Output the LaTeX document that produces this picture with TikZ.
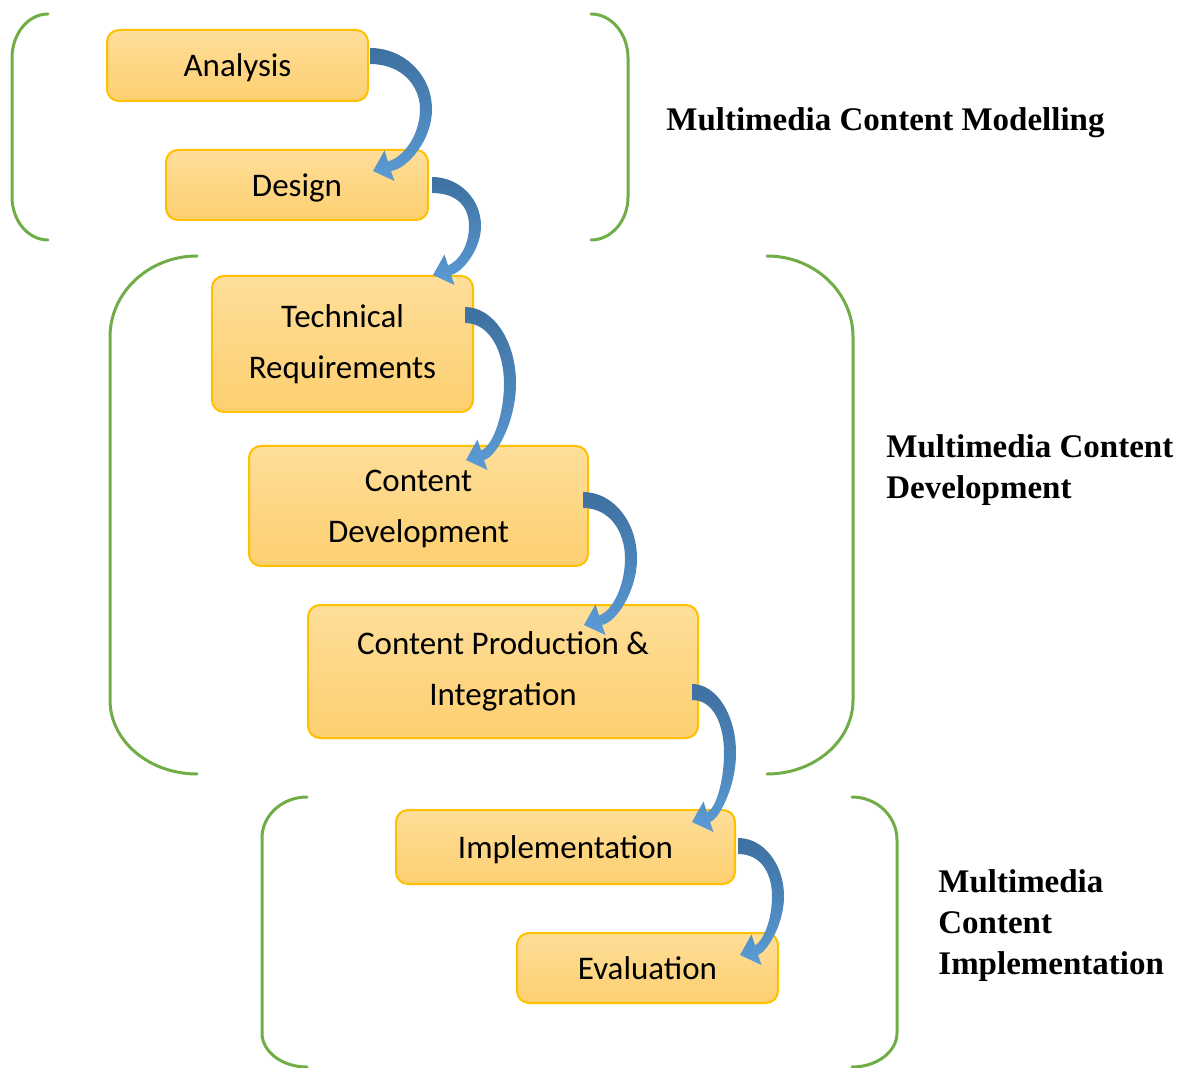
\documentclass[tikz,border=0pt]{standalone}
\usepackage{fontspec}
\usetikzlibrary{calc}
\newfontfamily\carlito{Carlito}
\newfontfamily\libserif{Liberation Serif}
\definecolor{boxtop}{RGB}{254,222,153}
\definecolor{boxbot}{RGB}{253,207,112}
\definecolor{boxborder}{RGB}{255,192,0}
\definecolor{brgreen}{RGB}{112,173,71}
\definecolor{arrdark}{RGB}{62,112,160}
\definecolor{arrlight}{RGB}{91,155,213}
\newcommand\boxfont{\carlito\fontsize{16.5}{25.5}\selectfont}
\newcommand\labfont{\libserif\bfseries\fontsize{16.5}{20.5}\selectfont}
% green bracket: xend, xvert, ytop, yvtop, yvbot, ybot
\newcommand\greenbracket[6]{%
  \draw[bracket] (#1,#3) .. controls ({#1-0.552*(#1-#2)},#3) and (#2,{#4-0.552*(#4-#3)}) .. (#2,#4)
    -- (#2,#5) .. controls (#2,{#5+0.552*(#6-#5)}) and ({#1-0.552*(#1-#2)},#6) .. (#1,#6);}
% curved block arrow: tail coordinate, tip coordinate, width (px)
\newcommand\curvedarrow[3]{%
  \path let \p1=($(#2)-(#1)$) in (#1) \pgfextra{\pgfmathsetmacro\tmpH{-2*(\y1)}\pgfmathsetmacro\tmpT{2*(\x1)}\xdef\aH{\tmpH}\xdef\aT{\tmpT}};
  \begin{scope}[shift={(#1)}]
  \pgfmathsetmacro\aW{#3}
  \shade[arrowshade] (0,0) .. controls ({0.55*\aW},0) and (\aW,{0.22*\aH}) .. (\aW,{0.5*\aH})
     .. controls (\aW,{0.75*\aH}) and ({0.6*\aW},{\aH-2}) .. ({\aT+18},{\aH})
     -- ({\aT+21.5},{\aH+10}) -- (\aT,\aH) -- ({\aT+11.5},{\aH-20.5}) -- ({\aT+15},{\aH-9.5})
     .. controls ({0.55*\aW},{\aH-14}) and ({\aW-12},{0.7*\aH}) .. ({\aW-12},{0.5*\aH})
     .. controls ({\aW-12},{0.3*\aH}) and ({0.5*\aW},16) .. (0,16) -- cycle;
  \end{scope}}
\begin{document}
\begin{tikzpicture}[x=0.5pt,y=-0.5pt,
  stage/.style={draw=boxborder, line width=1pt, rounded corners=6pt,
    top color=boxtop, bottom color=boxbot, inner sep=0pt, outer sep=0pt,
    font=\boxfont, align=center, text=black},
  lowtext/.style={text depth=0pt},
  lab/.style={font=\labfont, inner sep=0pt, anchor=base west, text=black},
  bracket/.style={draw=brgreen, line width=1.5pt, line cap=round},
  arrowshade/.style={top color=arrdark, bottom color=arrlight}]
\useasboundingbox (0,0) rectangle (1187,1068);

% brackets
\greenbracket{48}{12}{14}{58}{197}{240}
\greenbracket{591}{628}{14}{58}{197}{240}
\greenbracket{197}{110}{256}{337}{700}{774}
\greenbracket{767}{853}{256}{337}{700}{774}
\greenbracket{307}{262}{797}{838}{1033}{1067}
\greenbracket{852}{897}{797}{840}{1033}{1067}

% stages
\node[stage, lowtext, minimum width=130.5pt, minimum height=35.5pt] (analysis) at (237.5,65.5) {Analysis};
\node[stage, lowtext, minimum width=131pt, minimum height=35pt] (design) at (297,185) {Design};
\node[stage, minimum width=130.5pt, minimum height=68pt] (tech) at (342.5,344) {Technical\\Requirements};
\node[stage, lowtext, minimum width=169.5pt, minimum height=60pt] (cdev) at (418.5,506) {Content\\Development};
\node[stage, minimum width=195pt, minimum height=66.5pt] (cprod) at (503,671.5) {Content Production \&\\Integration};
\node[stage, lowtext, minimum width=169.5pt, minimum height=37pt] (impl) at (565.5,847) {Implementation};
\node[stage, lowtext, minimum width=130.5pt, minimum height=35pt] (eval) at (647.5,968) {Evaluation};

% arrow end points
\coordinate (t1) at ($(analysis.north east)+(2,18)$);
\coordinate (h1) at ($(design.north east)+(-55,21)$);
\coordinate (t2) at ($(design.north east)+(4,27)$);
\coordinate (h2) at ($(tech.north east)+(-40,-1)$);
\coordinate (t3) at ($(tech.north east)+(-8,31)$);
\coordinate (h3) at ($(cdev.north east)+(-122,14)$);
\coordinate (t4) at ($(cdev.north east)+(-5,46)$);
\coordinate (h4) at ($(cprod.north east)+(-114,20)$);
\coordinate (t5) at ($(cprod.north east)+(-6,79)$);
\coordinate (h5) at ($(impl.north east)+(-43,12)$);
\coordinate (t6) at ($(impl.north east)+(3,28)$);
\coordinate (h6) at ($(eval.north east)+(-38,22)$);

\curvedarrow{t1}{h1}{62}
\curvedarrow{t2}{h2}{49}
\curvedarrow{t3}{h3}{51}
\curvedarrow{t4}{h4}{54}
\curvedarrow{t5}{h5}{44}
\curvedarrow{t6}{h6}{46}

% phase labels
\node[lab] (l1) at (666,131) {Multimedia Content Modelling};
\node[lab] (l2a) at (886,458) {Multimedia Content};
\node[lab] (l2b) at (886,499) {Development};
\node[lab] (l3a) at (938,892) {Multimedia};
\node[lab] (l3b) at (938,933) {Content};
\node[lab] (l3c) at (938,974) {Implementation};
\end{tikzpicture}
\end{document}
